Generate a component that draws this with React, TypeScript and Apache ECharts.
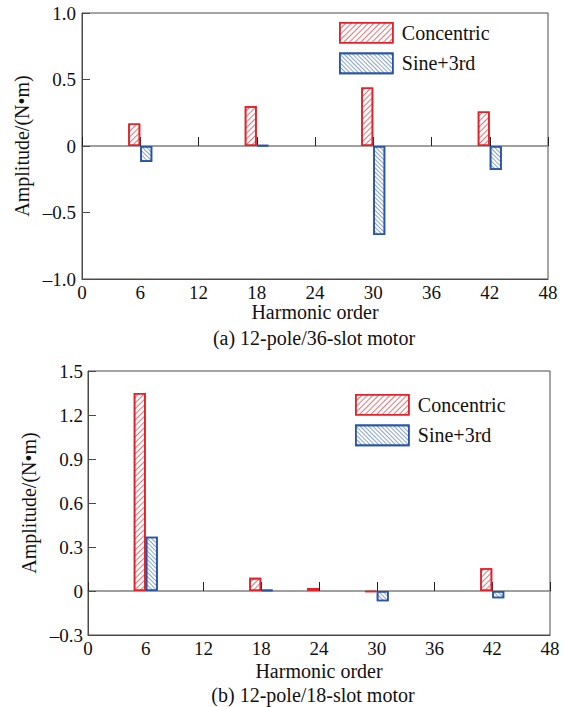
import React, { useEffect, useRef } from 'react';
import * as echarts from 'echarts';

// ---- Data ----
const harmonicsA = [6, 18, 30, 42];
const concentricA = [0.17, 0.30, 0.44, 0.26];
const sineA = [-0.12, 0.006, -0.67, -0.18];

const harmonicsB = [6, 18, 24, 30, 42];
const concentricB = [1.35, 0.09, 0.02, -0.006, 0.155];
const sineB = [0.37, 0.008, null, -0.07, -0.05];

const seriesNames = ['Concentric', 'Sine+3rd'];
const xAxisTitle = 'Harmonic order';
const yAxisTitle = 'Amplitude/(N\u2022m)';
const captionA = '(a) 12-pole/36-slot motor';
const captionB = '(b) 12-pole/18-slot motor';

const RED = '#e2232b';
const BLUE = '#2a55a5';
const FRAME = '#4a4a4a';
const ZERO = '#808080';
const TXT = '#111';
const FONT = "'Liberation Serif', 'Times New Roman', serif";
const TICK_FS = 19;
const NAME_FS = 20;
const LEG_FS = 20;

const yFmt = (v: number) =>
  Math.abs(v) < 1e-9 ? '0' : v.toFixed(1).replace('-', '\u2013');

const redStyle = {
  color: '#ffffff',
  borderColor: RED,
  borderWidth: 1.6,
  decal: {
    symbol: 'rect',
    symbolSize: 1,
    dashArrayX: [1, 0],
    dashArrayY: [1, 3],
    rotation: -Math.PI / 4,
    color: 'rgba(226,35,43,0.65)',
  },
};
const blueStyle = {
  color: '#ffffff',
  borderColor: BLUE,
  borderWidth: 1.6,
  decal: {
    symbol: 'rect',
    symbolSize: 1,
    dashArrayX: [1, 0],
    dashArrayY: [1, 2],
    rotation: Math.PI / 4,
    color: 'rgba(42,85,165,0.55)',
  },
};

function xAxes(gridIndex: number) {
  return [
    {
      gridIndex,
      type: 'value',
      position: 'bottom',
      min: 0,
      max: 48,
      interval: 6,
      axisLine: { show: true, onZero: false, lineStyle: { color: FRAME, width: 1 } },
      axisTick: { show: false },
      splitLine: { show: false },
      axisLabel: { fontSize: TICK_FS, fontFamily: FONT, color: TXT, margin: 4 },
    },
    {
      gridIndex,
      type: 'value',
      position: 'top',
      min: 0,
      max: 48,
      interval: 6,
      axisLine: { show: true, onZero: true, lineStyle: { color: ZERO, width: 1.5 } },
      axisTick: { show: true, inside: false, length: 9, lineStyle: { color: '#222', width: 1 } },
      splitLine: { show: false },
      axisLabel: { show: false },
    },
  ];
}

function yAxis(gridIndex: number, min: number, max: number, interval: number, nameGap: number, margin: number) {
  return {
    gridIndex,
    type: 'value',
    min,
    max,
    interval,
    name: yAxisTitle,
    nameLocation: 'middle',
    nameGap,
    nameTextStyle: { fontSize: NAME_FS, fontFamily: FONT, color: TXT },
    axisLine: { show: true, lineStyle: { color: FRAME, width: 1 } },
    axisTick: { show: true, inside: true, length: 8, lineStyle: { color: FRAME } },
    splitLine: { show: false },
    axisLabel: { fontSize: TICK_FS, fontFamily: FONT, color: TXT, margin, formatter: yFmt },
  };
}

function legend(left: number, top: number) {
  return {
    data: seriesNames,
    orient: 'vertical',
    left,
    top,
    padding: 0,
    icon: 'rect',
    itemWidth: 53,
    itemHeight: 20,
    itemGap: 9,
    selectedMode: false,
    itemStyle: { borderWidth: 1.6 },
    textStyle: { fontSize: LEG_FS, fontFamily: FONT, color: TXT, padding: [0, 0, 0, 4] },
  };
}

function bars(gridNo: number, hs: number[], red: (number | null)[], blue: (number | null)[]) {
  return [
    {
      type: 'bar',
      name: seriesNames[0],
      xAxisIndex: gridNo * 2,
      yAxisIndex: gridNo,
      barWidth: 12,
      barGap: '0%',
      data: hs.map((h, i) => [h, red[i]]),
      itemStyle: redStyle,
    },
    {
      type: 'bar',
      name: seriesNames[1],
      xAxisIndex: gridNo * 2,
      yAxisIndex: gridNo,
      barWidth: 12,
      barGap: '0%',
      data: hs.map((h, i) => [h, blue[i]]),
      itemStyle: blueStyle,
    },
  ];
}

function txt(text: string, x: number, y: number) {
  return {
    type: 'text',
    x,
    y,
    style: {
      text,
      fontSize: NAME_FS,
      fontFamily: FONT,
      fill: TXT,
      align: 'center',
      verticalAlign: 'middle',
    },
  };
}

export default function App() {
  const ref = useRef<HTMLDivElement>(null);
  useEffect(() => {
    if (!ref.current) return;
    const chart = echarts.init(ref.current, undefined, { renderer: 'svg' });
    chart.setOption({
      animation: false,
      backgroundColor: '#ffffff',
      grid: [
        { left: 82, top: 13, width: 466, height: 266, show: true, borderColor: FRAME, borderWidth: 1 },
        { left: 88, top: 371, width: 462, height: 264, show: true, borderColor: FRAME, borderWidth: 1 },
      ],
      xAxis: [...xAxes(0), ...xAxes(1)],
      yAxis: [yAxis(0, -1, 1, 0.5, 46, 6), yAxis(1, -0.3, 1.5, 0.3, 45, 5)],
      legend: [legend(339, 22), legend(355, 394)],
      series: [
        ...bars(0, harmonicsA, concentricA, sineA),
        ...bars(1, harmonicsB, concentricB, sineB),
      ],
      graphic: [
        txt(xAxisTitle, 315, 312),
        txt(captionA, 314, 338),
        txt(xAxisTitle, 319, 671),
        txt(captionB, 313, 695),
      ],
    });
    return () => chart.dispose();
  }, []);
  return (
    <div
      ref={ref}
      style={{ position: 'absolute', left: 0, top: 0, width: 566, height: 707 }}
    />
  );
}
